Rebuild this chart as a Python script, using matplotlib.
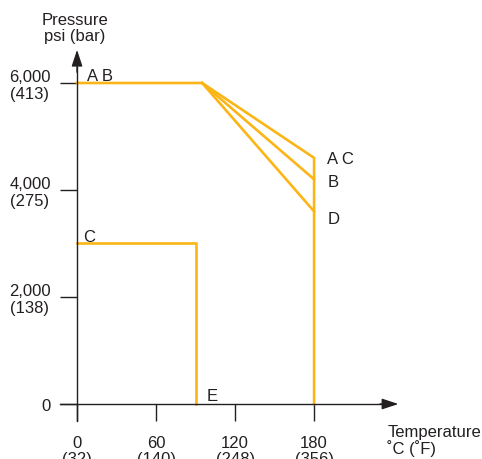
import matplotlib
matplotlib.use("Agg")
import matplotlib.pyplot as plt

# data (temperature in degC, pressure in psi)
temp_ab = [0, 95, 180, 180]
press_a = [6000, 6000, 4600, 0]
temp_b = [95, 180]
press_b = [6000, 4200]
temp_d = [95, 180]
press_d = [6000, 3600]
temp_c = [0, 90, 90]
press_c = [3000, 3000, 0]

xticks = [0, 60, 120, 180]
xlabels = ["0\n(32)", "60\n(140)", "120\n(248)", "180\n(356)"]
yticks = [0, 2000, 4000, 6000]
ylabels = ["0", "2,000\n(138)", "4,000\n(275)", "6,000\n(413)"]

plt.rcParams['font.family'] = ['Liberation Sans', 'DejaVu Sans']
orange = "#FBB516"
ink = "#231F20"

fig = plt.figure(figsize=(4.82, 4.6), dpi=100)
ax = fig.add_axes([0, 0, 1, 1])
ax.set_xlim(-58.5, 307.5)
ax.set_ylim(-1028, 7570)

for s in ["top", "right"]:
    ax.spines[s].set_visible(False)
ax.spines["left"].set_position(("data", 0))
ax.spines["bottom"].set_position(("data", 0))
ax.spines["left"].set_bounds(-318, 6300)
ax.spines["bottom"].set_bounds(-13, 240)
for s in ["left", "bottom"]:
    ax.spines[s].set_color(ink)
    ax.spines[s].set_linewidth(1.0)

fs = 12

ax.set_xticks(xticks)
ax.set_xticklabels(xlabels)
ax.set_yticks(yticks)
ax.set_yticklabels(ylabels)
ax.tick_params(axis="both", direction="out", length=12, width=1.0, color=ink,
               labelsize=fs, labelcolor=ink)
ax.tick_params(axis="x", pad=10)
ax.tick_params(axis="y", pad=7)
for lab in ax.get_xticklabels() + ax.get_yticklabels():
    lab.set_multialignment("center")
    lab.set_linespacing(1.1)

# arrow heads
ax.annotate("", xy=(0, 6620), xytext=(0, 6200),
            arrowprops=dict(arrowstyle="-|>,head_length=1.0,head_width=0.33",
                            color=ink, lw=1.0, shrinkA=0, shrinkB=0))
ax.annotate("", xy=(244, 0), xytext=(230, 0),
            arrowprops=dict(arrowstyle="-|>,head_length=1.0,head_width=0.33",
                            color=ink, lw=1.0, shrinkA=0, shrinkB=0))

# curves
ax.plot(temp_ab, press_a, color=orange, lw=1.9, solid_joinstyle="miter", clip_on=False)
ax.plot(temp_b, press_b, color=orange, lw=1.9, clip_on=False)
ax.plot(temp_d, press_d, color=orange, lw=1.9, clip_on=False)
ax.plot(temp_c, press_c, color=orange, lw=1.9, solid_joinstyle="miter", clip_on=False)

ax.text(7.6, 6140, "A B", fontsize=fs, color=ink, va="center", ha="left")
ax.text(190, 4589, "A C", fontsize=fs, color=ink, va="center", ha="left")
ax.text(190, 4150, "B", fontsize=fs, color=ink, va="center", ha="left")
ax.text(190, 3458, "D", fontsize=fs, color=ink, va="center", ha="left")
ax.text(4.6, 3140, "C", fontsize=fs, color=ink, va="center", ha="left")
ax.text(98.7, 150, "E", fontsize=fs, color=ink, va="center", ha="left")

# axis titles
ax.text(-1.5, 7040, "Pressure\npsi (bar)", fontsize=fs, color=ink,
        ha="center", va="center", multialignment="center", linespacing=1.05)
ax.text(235.5, -680, "Temperature\n˚C (˚F)", fontsize=fs, color=ink,
        ha="left", va="center", multialignment="left", linespacing=1.0)

fig.savefig("out.png", dpi=100)
